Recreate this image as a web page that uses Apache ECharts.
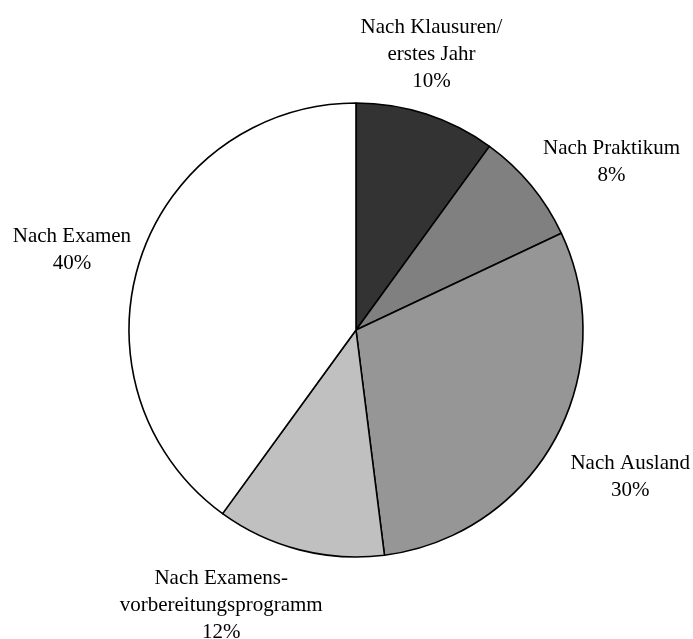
<!DOCTYPE html>
<html>
<head>
<meta charset="utf-8">
<script src="https://cdn.jsdelivr.net/npm/echarts@6/dist/echarts.min.js"></script>
<style>
html,body{margin:0;padding:0;background:#fff;}
#chart{width:693px;height:639px;}
</style>
</head>
<body>
<div id="chart"></div>
<script>
const categories = ['Nach Klausuren/\nerstes Jahr', 'Nach Praktikum', 'Nach Ausland', 'Nach Examens-\nvorbereitungsprogramm', 'Nach Examen'];
const values = [10, 8, 30, 12, 40];
const sliceColors = ['#333333', '#808080', '#969696', '#c0c0c0', '#ffffff'];
// per-label placement (label line lengths, line itself hidden)
const labelLen = [63, 36, 79, 57.5, 30.5];
const labelLen2 = [-90, -20.6, -58.7, -42.4, -25];

const chart = echarts.init(document.getElementById('chart'), null, {renderer: 'canvas'});
const data = categories.map((c, i) => ({
  name: c,
  value: values[i],
  itemStyle: {color: sliceColors[i]},
  labelLine: {show: false, length: labelLen[i], length2: labelLen2[i]}
}));
chart.setOption({
  animation: false,
  backgroundColor: '#ffffff',
  series: [{
    type: 'pie',
    center: [356, 330],
    radius: [0, 227],
    startAngle: 90,
    clockwise: true,
    avoidLabelOverlap: false,
    itemStyle: {borderColor: '#000', borderWidth: 1.6},
    emphasis: {disabled: true},
    label: {
      show: true,
      position: 'outside',
      distanceToLabelLine: 5,
      fontFamily: 'Liberation Serif',
      fontSize: 21,
      color: '#000',
      formatter: p => p.name.split('\n').map(s => '{a|' + s + '}').join('\n') + '\n{a|' + p.value + '%}',
      rich: {
        a: {align: 'center', fontFamily: 'Liberation Serif', fontSize: 21, lineHeight: 27, color: '#000'}
      }
    },
    data: data
  }]
});
</script>
</body>
</html>
